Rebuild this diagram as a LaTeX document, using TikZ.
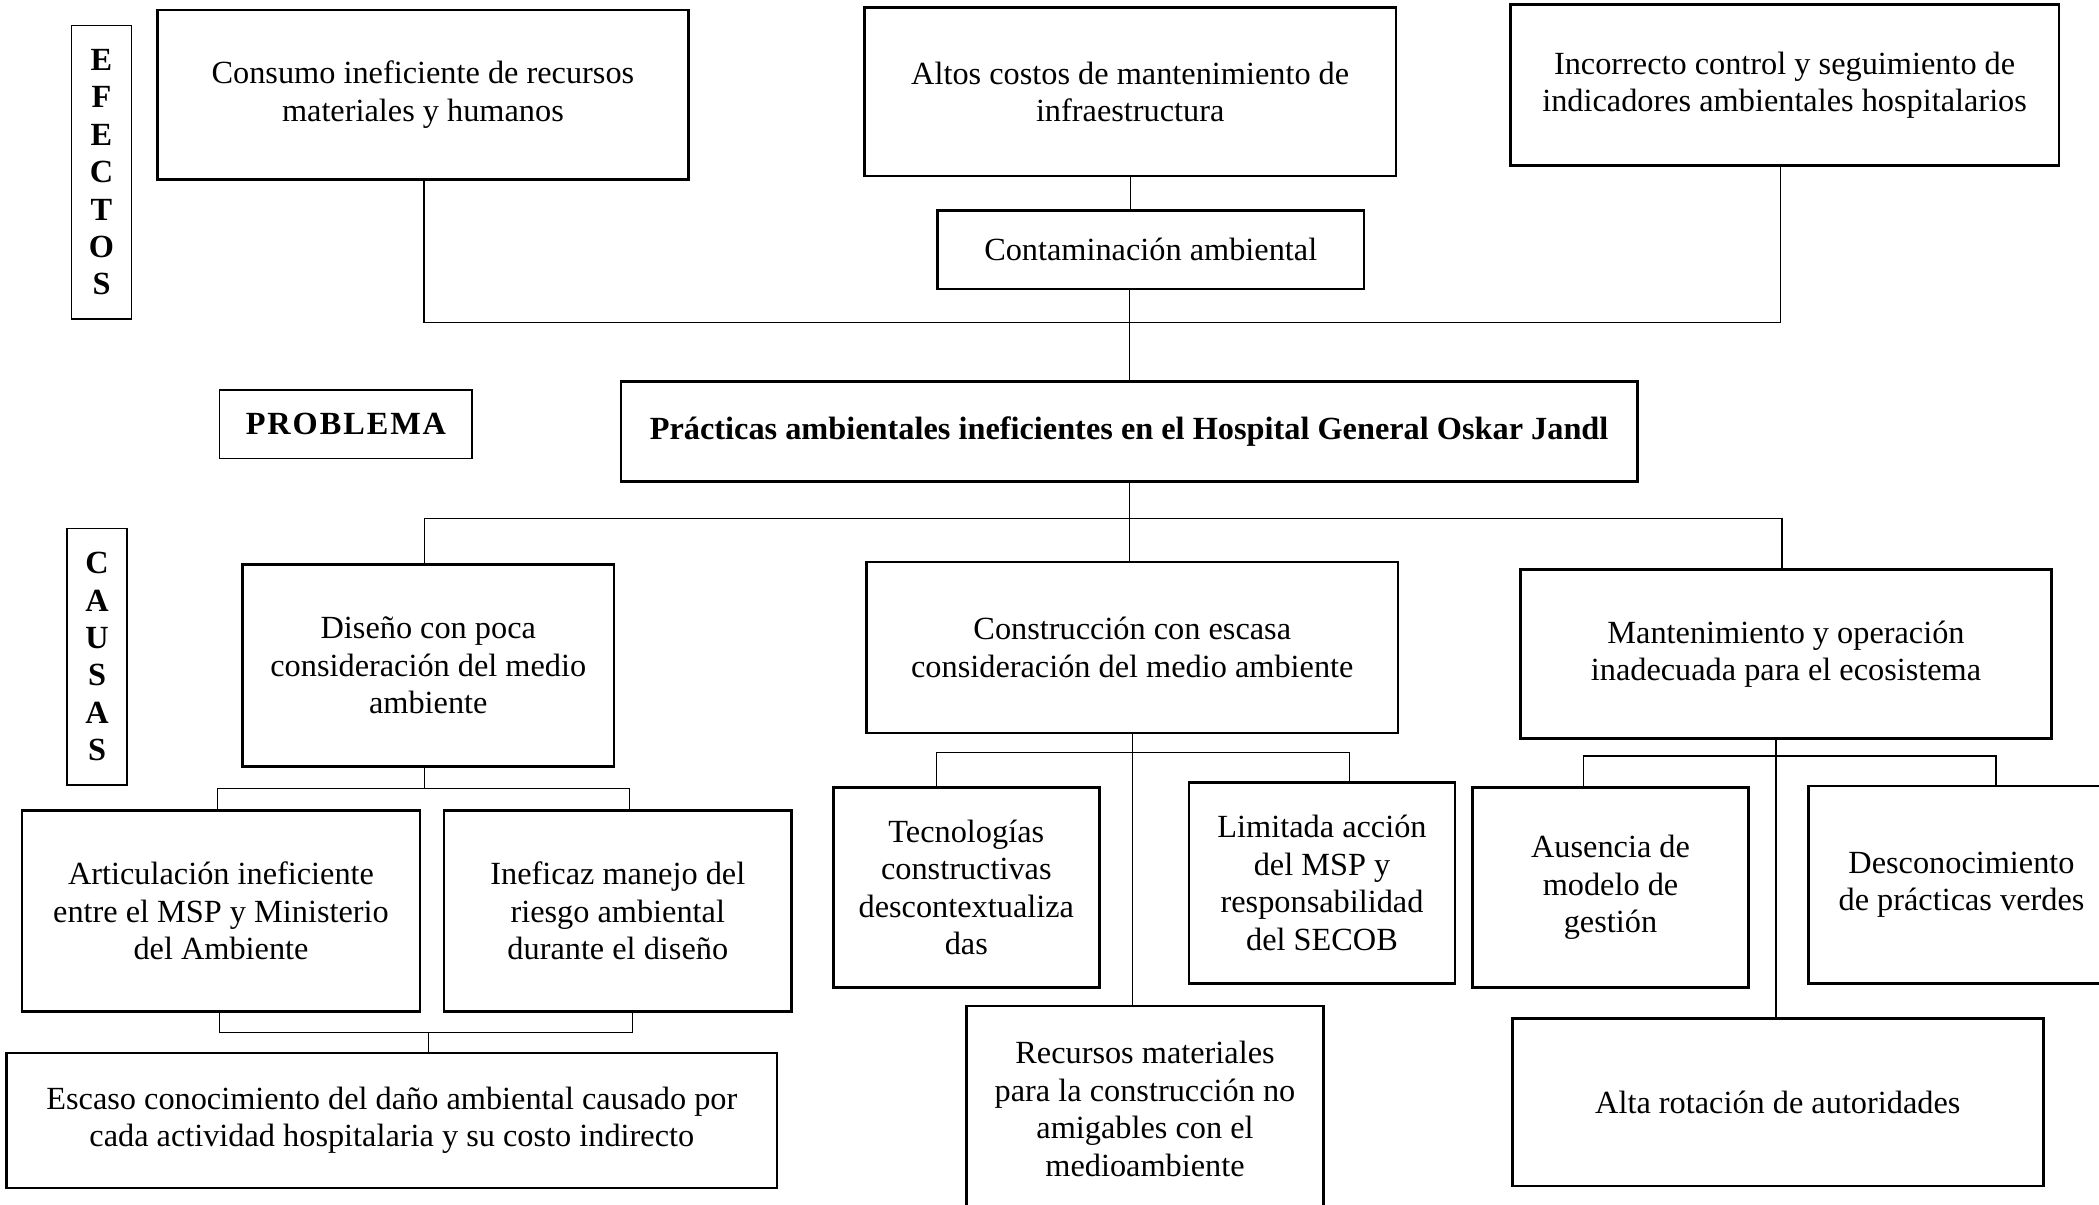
\documentclass[tikz,border=0pt]{standalone}
\usepackage{fontspec}
\setmainfont{Liberation Serif}
\usetikzlibrary{calc}
\begin{document}
\begin{tikzpicture}[x=0.3528pt,y=-0.3528pt,
  box/.style={draw, line width=0.9pt, align=center, inner sep=0pt, font=\fontsize{11.4}{13.2}\selectfont},
  lbl/.style={draw, line width=0.5pt, align=center, inner sep=0pt, font=\fontsize{11.4}{13.2}\selectfont\bfseries},
  sz/.style 2 args={minimum width=#1*0.3528pt, minimum height=#2*0.3528pt},
  conn/.style={line width=0.4pt}]
\useasboundingbox (0,0) rectangle (2099,1205);
\clip (0,0) rectangle (2099,1205);

% labels
\node[lbl, sz={59.6}{293.7}] (efectos) at (101.5,172.2) {E\\F\\E\\C\\T\\O\\S};
\node[lbl, sz={252.5}{68.3}] (problema) at (345.9,424.2) {\addfontfeature{LetterSpace=6}PROBLEMA};
\node[lbl, sz={60.2}{256.7}] (causas) at (97.1,656.7) {C\\A\\U\\S\\A\\S};

% effects
\node[box, sz={531}{169.3}] (consumo) at (422.9,94.7) {Consumo ineficiente de recursos\\materiales y humanos};
\node[box, sz={531.4}{168.7}] (altos) at (1130.2,91.7) {Altos costos de mantenimiento de\\infraestructura};
\node[box, sz={548.5}{161}] (incorrecto) at (1784.6,85.2) {Incorrecto control y seguimiento de\\indicadores ambientales hospitalarios};
\node[box, sz={426.3}{78.3}] (contam) at (1150.7,249.9) {Contaminación ambiental};

% problem
\node[box, sz={1016.6}{100}, font=\fontsize{11.4}{13.2}\selectfont\bfseries] (practicas) at (1129.1,431.7) {Prácticas ambientales ineficientes en el Hospital General Oskar Jandl};

% causes
\node[box, sz={371.7}{201.9}] (diseno) at (428.3,665.3) {Diseño con poca\\consideración del medio\\ambiente};
\node[box, sz={531.2}{171}] (construccion) at (1132.3,647.5) {Construcción con escasa\\consideración del medio ambiente};
\node[box, sz={531.3}{168.6}] (mant) at (1786,654) {Mantenimiento y operación\\inadecuada para el ecosistema};

\node[box, sz={397.8}{200.9}] (articulacion) at (221,910.8) {Articulación ineficiente\\entre el MSP y Ministerio\\del Ambiente};
\node[box, sz={347.5}{200.9}] (ineficaz) at (617.8,910.8) {Ineficaz manejo del\\riesgo ambiental\\durante el diseño};
\node[box, sz={770.1}{135}] (escaso) at (391.8,1120.5) {Escaso conocimiento del daño ambiental causado por\\cada actividad hospitalaria y su costo indirecto};

\node[box, sz={266}{200}] (tecnologias) at (966.3,887.3) {Tecnologías\\constructivas\\descontextualiza\\das};
\node[box, sz={266}{200.6}] (limitada) at (1322,883) {Limitada acción\\del MSP y\\responsabilidad\\del SECOB};
\node[box, sz={356.6}{206}] (recursos) at (1145,1109) {Recursos materiales\\para la construcción no\\amigables con el\\medioambiente};

\node[box, sz={275.6}{199.8}] (ausencia) at (1610.5,887.4) {Ausencia de\\modelo de\\gestión};
\node[box, sz={306.4}{197.3}] (descon) at (1961.5,884.7) {Desconocimiento\\de prácticas verdes};
\node[box, sz={531}{167.7}] (alta) at (1777.8,1102.2) {Alta rotación de autoridades};

% bar levels
\coordinate (ebarT) at (0,322.7);
\coordinate (cbar) at (0,518.9);
\coordinate (dbar) at (0,788.7);
\coordinate (ebar) at (0,1032.4);
\coordinate (kbar) at (0,752.7);
\coordinate (mbar) at (0,756);

% effects connectors
\draw[conn] ($(consumo.south)+(1.1,0)$) coordinate (a1) -- (a1 |- ebarT) -| ($(incorrecto.south)+(-4.1,0)$);
\draw[conn] (altos.south) -- (altos.south |- contam.north);
\draw[conn] (practicas.north |- contam.south) -- (practicas.north);

% causes connectors
\draw[conn] (practicas.south) -- (practicas.south |- construccion.north);
\draw[conn] ($(diseno.north)+(-4,0)$) coordinate (a2) -- (a2 |- cbar) -| ($(mant.north)+(-4,0)$);

\draw[conn] ($(diseno.south)+(-3.7,0)$) coordinate (ds) -- (ds |- dbar);
\draw[conn] ($(articulacion.north)+(-3.4,0)$) coordinate (a3) -- (a3 |- dbar) -| ($(ineficaz.north)+(11.7,0)$);
\draw[conn] ($(articulacion.south)+(-1.4,0)$) coordinate (a4) -- (a4 |- ebar) -| ($(ineficaz.south)+(14.4,0)$);
\draw[conn] (ebar -| diseno.south) -- (escaso.north -| diseno.south);

\draw[conn] (construccion.south) -- (construccion.south |- recursos.north);
\draw[conn] ($(tecnologias.north)+(-29.6,0)$) coordinate (a5) -- (a5 |- kbar) -| ($(limitada.north)+(27.7,0)$);

\draw[conn] ($(mant.south)+(-10,0)$) coordinate (ms) -- (ms |- alta.north);
\draw[conn] ($(ausencia.north)+(-27.2,0)$) coordinate (a6) -- (a6 |- mbar) -| ($(descon.north)+(34.5,0)$);
\end{tikzpicture}
\end{document}
